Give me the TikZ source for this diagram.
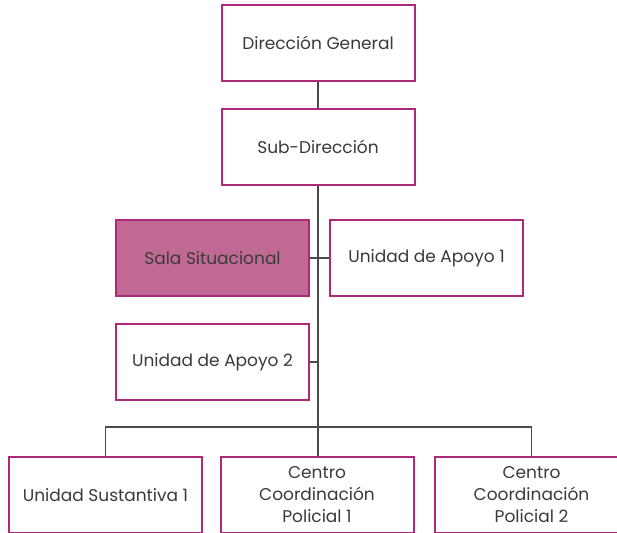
\documentclass[tikz,border=0pt]{standalone}
\usepackage{fontspec}
\setmainfont{Poppins}
\usetikzlibrary{positioning}
\definecolor{borde}{HTML}{B0287A}
\definecolor{relleno}{HTML}{C06A93}
\definecolor{texto}{HTML}{3A3A3A}
\definecolor{linea}{HTML}{4A4A4A}

\begin{document}
\begin{tikzpicture}[x=1pt, y=-1pt, every node/.style={font=\fontsize{17}{22}\selectfont, text=texto}]
\tikzstyle{unidad} = [rectangle, draw=borde, fill=white, line width=2pt, minimum width=193pt, minimum height=76pt, align=center, inner sep=2pt]
\tikzstyle{sala} = [unidad, fill=relleno]
\tikzstyle{enlace} = [draw=linea, line width=1.3pt]

\useasboundingbox (0,0) rectangle (617,532);

% Nodes
\node[unidad] (dg) at (318,43) {Dirección General};
\node[unidad] (sd) at (318,147) {Sub-Dirección};
\node[sala] (ss) at (212.5,258) {Sala Situacional};
\node[unidad] (ap1) at (426.5,258) {Unidad de Apoyo 1};
\node[unidad] (ap2) at (212.5,362) {Unidad de Apoyo 2};
\node[unidad] (us1) at (105.5,495) {Unidad Sustantiva 1};
\node[unidad] (ccp1) at (317,495) {Centro\\Coordinación\\Policial 1};
\node[unidad] (ccp2) at (531.5,495) {Centro\\Coordinación\\Policial 2};
\coordinate (bus) at (318,427);

% Lines
\draw[enlace] (dg.south) -- (sd.north);
\draw[enlace] (sd.south) -- (sd.south |- ccp1.north);
\draw[enlace] (ss.east) -- (ap1.west);
\draw[enlace] (ap2.east) -- (ap2.east -| bus);
\draw[enlace] (us1.north) |- (bus) -| (ccp2.north);

\end{tikzpicture}
\end{document}
